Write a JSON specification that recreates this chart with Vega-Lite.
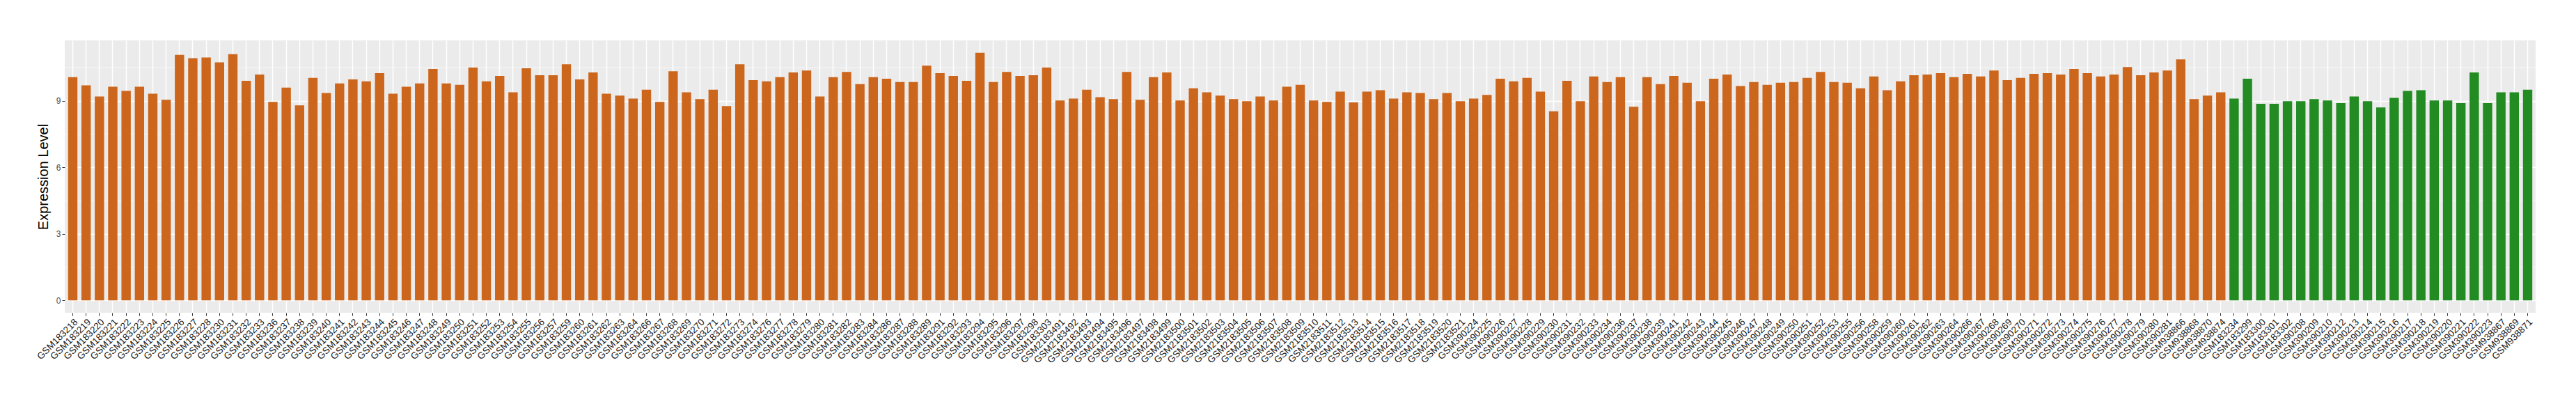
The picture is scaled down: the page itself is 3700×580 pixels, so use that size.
{
  "$schema": "https://vega.github.io/schema/vega-lite/v6.json",
  "width": 3549,
  "height": 391,
  "autosize": {"type": "none"},
  "padding": {"left": 93, "top": 58, "right": 58, "bottom": 131},
  "background": "white",
  "config": {
    "font": "Liberation Sans",
    "view": {"stroke": null, "fill": "#EBEBEB"},
    "axis": {"domain": false}
  },
  "data": {
    "values": [
      {"sample": "GSM183218", "value": 10.06, "group": "Group1"},
      {"sample": "GSM183219", "value": 9.69, "group": "Group1"},
      {"sample": "GSM183220", "value": 9.19, "group": "Group1"},
      {"sample": "GSM183221", "value": 9.63, "group": "Group1"},
      {"sample": "GSM183222", "value": 9.44, "group": "Group1"},
      {"sample": "GSM183223", "value": 9.63, "group": "Group1"},
      {"sample": "GSM183224", "value": 9.32, "group": "Group1"},
      {"sample": "GSM183225", "value": 9.04, "group": "Group1"},
      {"sample": "GSM183226", "value": 11.07, "group": "Group1"},
      {"sample": "GSM183227", "value": 10.92, "group": "Group1"},
      {"sample": "GSM183228", "value": 10.95, "group": "Group1"},
      {"sample": "GSM183230", "value": 10.73, "group": "Group1"},
      {"sample": "GSM183231", "value": 11.10, "group": "Group1"},
      {"sample": "GSM183232", "value": 9.90, "group": "Group1"},
      {"sample": "GSM183233", "value": 10.18, "group": "Group1"},
      {"sample": "GSM183236", "value": 8.95, "group": "Group1"},
      {"sample": "GSM183237", "value": 9.59, "group": "Group1"},
      {"sample": "GSM183238", "value": 8.79, "group": "Group1"},
      {"sample": "GSM183239", "value": 10.03, "group": "Group1"},
      {"sample": "GSM183240", "value": 9.35, "group": "Group1"},
      {"sample": "GSM183241", "value": 9.78, "group": "Group1"},
      {"sample": "GSM183242", "value": 9.96, "group": "Group1"},
      {"sample": "GSM183243", "value": 9.87, "group": "Group1"},
      {"sample": "GSM183244", "value": 10.24, "group": "Group1"},
      {"sample": "GSM183245", "value": 9.32, "group": "Group1"},
      {"sample": "GSM183246", "value": 9.63, "group": "Group1"},
      {"sample": "GSM183247", "value": 9.78, "group": "Group1"},
      {"sample": "GSM183248", "value": 10.43, "group": "Group1"},
      {"sample": "GSM183249", "value": 9.78, "group": "Group1"},
      {"sample": "GSM183250", "value": 9.72, "group": "Group1"},
      {"sample": "GSM183251", "value": 10.49, "group": "Group1"},
      {"sample": "GSM183252", "value": 9.87, "group": "Group1"},
      {"sample": "GSM183253", "value": 10.12, "group": "Group1"},
      {"sample": "GSM183254", "value": 9.38, "group": "Group1"},
      {"sample": "GSM183255", "value": 10.46, "group": "Group1"},
      {"sample": "GSM183256", "value": 10.15, "group": "Group1"},
      {"sample": "GSM183257", "value": 10.15, "group": "Group1"},
      {"sample": "GSM183259", "value": 10.64, "group": "Group1"},
      {"sample": "GSM183260", "value": 9.96, "group": "Group1"},
      {"sample": "GSM183261", "value": 10.27, "group": "Group1"},
      {"sample": "GSM183262", "value": 9.32, "group": "Group1"},
      {"sample": "GSM183263", "value": 9.23, "group": "Group1"},
      {"sample": "GSM183264", "value": 9.10, "group": "Group1"},
      {"sample": "GSM183266", "value": 9.50, "group": "Group1"},
      {"sample": "GSM183267", "value": 8.95, "group": "Group1"},
      {"sample": "GSM183268", "value": 10.33, "group": "Group1"},
      {"sample": "GSM183269", "value": 9.38, "group": "Group1"},
      {"sample": "GSM183270", "value": 9.07, "group": "Group1"},
      {"sample": "GSM183271", "value": 9.50, "group": "Group1"},
      {"sample": "GSM183272", "value": 8.76, "group": "Group1"},
      {"sample": "GSM183273", "value": 10.64, "group": "Group1"},
      {"sample": "GSM183274", "value": 9.93, "group": "Group1"},
      {"sample": "GSM183276", "value": 9.87, "group": "Group1"},
      {"sample": "GSM183277", "value": 10.06, "group": "Group1"},
      {"sample": "GSM183278", "value": 10.27, "group": "Group1"},
      {"sample": "GSM183279", "value": 10.36, "group": "Group1"},
      {"sample": "GSM183280", "value": 9.19, "group": "Group1"},
      {"sample": "GSM183281", "value": 10.06, "group": "Group1"},
      {"sample": "GSM183282", "value": 10.30, "group": "Group1"},
      {"sample": "GSM183283", "value": 9.75, "group": "Group1"},
      {"sample": "GSM183284", "value": 10.06, "group": "Group1"},
      {"sample": "GSM183286", "value": 9.99, "group": "Group1"},
      {"sample": "GSM183287", "value": 9.84, "group": "Group1"},
      {"sample": "GSM183288", "value": 9.84, "group": "Group1"},
      {"sample": "GSM183289", "value": 10.58, "group": "Group1"},
      {"sample": "GSM183291", "value": 10.24, "group": "Group1"},
      {"sample": "GSM183292", "value": 10.12, "group": "Group1"},
      {"sample": "GSM183293", "value": 9.90, "group": "Group1"},
      {"sample": "GSM183294", "value": 11.16, "group": "Group1"},
      {"sample": "GSM183295", "value": 9.84, "group": "Group1"},
      {"sample": "GSM183296", "value": 10.30, "group": "Group1"},
      {"sample": "GSM183297", "value": 10.12, "group": "Group1"},
      {"sample": "GSM183298", "value": 10.15, "group": "Group1"},
      {"sample": "GSM183303", "value": 10.49, "group": "Group1"},
      {"sample": "GSM2183491", "value": 9.01, "group": "Group1"},
      {"sample": "GSM2183492", "value": 9.10, "group": "Group1"},
      {"sample": "GSM2183493", "value": 9.50, "group": "Group1"},
      {"sample": "GSM2183494", "value": 9.16, "group": "Group1"},
      {"sample": "GSM2183495", "value": 9.07, "group": "Group1"},
      {"sample": "GSM2183496", "value": 10.30, "group": "Group1"},
      {"sample": "GSM2183497", "value": 9.04, "group": "Group1"},
      {"sample": "GSM2183498", "value": 10.06, "group": "Group1"},
      {"sample": "GSM2183499", "value": 10.27, "group": "Group1"},
      {"sample": "GSM2183500", "value": 9.01, "group": "Group1"},
      {"sample": "GSM2183501", "value": 9.56, "group": "Group1"},
      {"sample": "GSM2183502", "value": 9.38, "group": "Group1"},
      {"sample": "GSM2183503", "value": 9.23, "group": "Group1"},
      {"sample": "GSM2183504", "value": 9.07, "group": "Group1"},
      {"sample": "GSM2183505", "value": 8.98, "group": "Group1"},
      {"sample": "GSM2183506", "value": 9.19, "group": "Group1"},
      {"sample": "GSM2183507", "value": 9.01, "group": "Group1"},
      {"sample": "GSM2183508", "value": 9.63, "group": "Group1"},
      {"sample": "GSM2183509", "value": 9.72, "group": "Group1"},
      {"sample": "GSM2183510", "value": 9.01, "group": "Group1"},
      {"sample": "GSM2183511", "value": 8.95, "group": "Group1"},
      {"sample": "GSM2183512", "value": 9.41, "group": "Group1"},
      {"sample": "GSM2183513", "value": 8.92, "group": "Group1"},
      {"sample": "GSM2183514", "value": 9.41, "group": "Group1"},
      {"sample": "GSM2183515", "value": 9.47, "group": "Group1"},
      {"sample": "GSM2183516", "value": 9.10, "group": "Group1"},
      {"sample": "GSM2183517", "value": 9.38, "group": "Group1"},
      {"sample": "GSM2183518", "value": 9.35, "group": "Group1"},
      {"sample": "GSM2183519", "value": 9.07, "group": "Group1"},
      {"sample": "GSM2183520", "value": 9.35, "group": "Group1"},
      {"sample": "GSM2183521", "value": 8.98, "group": "Group1"},
      {"sample": "GSM390224", "value": 9.10, "group": "Group1"},
      {"sample": "GSM390225", "value": 9.26, "group": "Group1"},
      {"sample": "GSM390226", "value": 9.99, "group": "Group1"},
      {"sample": "GSM390227", "value": 9.87, "group": "Group1"},
      {"sample": "GSM390228", "value": 10.03, "group": "Group1"},
      {"sample": "GSM390229", "value": 9.41, "group": "Group1"},
      {"sample": "GSM390230", "value": 8.52, "group": "Group1"},
      {"sample": "GSM390231", "value": 9.90, "group": "Group1"},
      {"sample": "GSM390232", "value": 8.98, "group": "Group1"},
      {"sample": "GSM390233", "value": 10.09, "group": "Group1"},
      {"sample": "GSM390234", "value": 9.84, "group": "Group1"},
      {"sample": "GSM390236", "value": 10.06, "group": "Group1"},
      {"sample": "GSM390237", "value": 8.73, "group": "Group1"},
      {"sample": "GSM390238", "value": 10.06, "group": "Group1"},
      {"sample": "GSM390239", "value": 9.75, "group": "Group1"},
      {"sample": "GSM390241", "value": 10.12, "group": "Group1"},
      {"sample": "GSM390242", "value": 9.81, "group": "Group1"},
      {"sample": "GSM390243", "value": 8.98, "group": "Group1"},
      {"sample": "GSM390244", "value": 9.99, "group": "Group1"},
      {"sample": "GSM390245", "value": 10.18, "group": "Group1"},
      {"sample": "GSM390246", "value": 9.66, "group": "Group1"},
      {"sample": "GSM390247", "value": 9.84, "group": "Group1"},
      {"sample": "GSM390248", "value": 9.72, "group": "Group1"},
      {"sample": "GSM390249", "value": 9.81, "group": "Group1"},
      {"sample": "GSM390250", "value": 9.84, "group": "Group1"},
      {"sample": "GSM390251", "value": 10.03, "group": "Group1"},
      {"sample": "GSM390252", "value": 10.30, "group": "Group1"},
      {"sample": "GSM390253", "value": 9.84, "group": "Group1"},
      {"sample": "GSM390255", "value": 9.81, "group": "Group1"},
      {"sample": "GSM390256", "value": 9.56, "group": "Group1"},
      {"sample": "GSM390258", "value": 10.09, "group": "Group1"},
      {"sample": "GSM390259", "value": 9.47, "group": "Group1"},
      {"sample": "GSM390260", "value": 9.87, "group": "Group1"},
      {"sample": "GSM390261", "value": 10.15, "group": "Group1"},
      {"sample": "GSM390262", "value": 10.18, "group": "Group1"},
      {"sample": "GSM390263", "value": 10.24, "group": "Group1"},
      {"sample": "GSM390264", "value": 10.06, "group": "Group1"},
      {"sample": "GSM390266", "value": 10.21, "group": "Group1"},
      {"sample": "GSM390267", "value": 10.09, "group": "Group1"},
      {"sample": "GSM390268", "value": 10.36, "group": "Group1"},
      {"sample": "GSM390269", "value": 9.93, "group": "Group1"},
      {"sample": "GSM390270", "value": 10.03, "group": "Group1"},
      {"sample": "GSM390271", "value": 10.21, "group": "Group1"},
      {"sample": "GSM390272", "value": 10.24, "group": "Group1"},
      {"sample": "GSM390273", "value": 10.18, "group": "Group1"},
      {"sample": "GSM390274", "value": 10.43, "group": "Group1"},
      {"sample": "GSM390275", "value": 10.24, "group": "Group1"},
      {"sample": "GSM390276", "value": 10.09, "group": "Group1"},
      {"sample": "GSM390277", "value": 10.18, "group": "Group1"},
      {"sample": "GSM390278", "value": 10.52, "group": "Group1"},
      {"sample": "GSM390279", "value": 10.15, "group": "Group1"},
      {"sample": "GSM390280", "value": 10.27, "group": "Group1"},
      {"sample": "GSM390281", "value": 10.36, "group": "Group1"},
      {"sample": "GSM938866", "value": 10.86, "group": "Group1"},
      {"sample": "GSM938868", "value": 9.07, "group": "Group1"},
      {"sample": "GSM938870", "value": 9.23, "group": "Group1"},
      {"sample": "GSM938874", "value": 9.38, "group": "Group1"},
      {"sample": "GSM183234", "value": 9.10, "group": "Group2"},
      {"sample": "GSM183299", "value": 9.99, "group": "Group2"},
      {"sample": "GSM183300", "value": 8.86, "group": "Group2"},
      {"sample": "GSM183301", "value": 8.86, "group": "Group2"},
      {"sample": "GSM183302", "value": 8.98, "group": "Group2"},
      {"sample": "GSM390208", "value": 8.98, "group": "Group2"},
      {"sample": "GSM390209", "value": 9.07, "group": "Group2"},
      {"sample": "GSM390210", "value": 9.01, "group": "Group2"},
      {"sample": "GSM390212", "value": 8.89, "group": "Group2"},
      {"sample": "GSM390213", "value": 9.19, "group": "Group2"},
      {"sample": "GSM390214", "value": 8.98, "group": "Group2"},
      {"sample": "GSM390215", "value": 8.70, "group": "Group2"},
      {"sample": "GSM390216", "value": 9.13, "group": "Group2"},
      {"sample": "GSM390217", "value": 9.44, "group": "Group2"},
      {"sample": "GSM390218", "value": 9.47, "group": "Group2"},
      {"sample": "GSM390219", "value": 9.01, "group": "Group2"},
      {"sample": "GSM390220", "value": 9.01, "group": "Group2"},
      {"sample": "GSM390221", "value": 8.89, "group": "Group2"},
      {"sample": "GSM390222", "value": 10.27, "group": "Group2"},
      {"sample": "GSM390223", "value": 8.89, "group": "Group2"},
      {"sample": "GSM938867", "value": 9.38, "group": "Group2"},
      {"sample": "GSM938869", "value": 9.38, "group": "Group2"},
      {"sample": "GSM938871", "value": 9.50, "group": "Group2"}
    ]
  },
  "mark": {"type": "bar"},
  "encoding": {
    "x": {
      "field": "sample",
      "type": "nominal",
      "sort": null,
      "scale": {"paddingInner": 0.3, "paddingOuter": 0.25},
      "axis": {
        "title": null,
        "grid": true,
        "gridColor": "white",
        "gridWidth": 1.5,
        "bandPosition": 0.5,
        "tickColor": "#333333",
        "tickSize": 4,
        "tickWidth": 1,
        "labelAngle": -45,
        "labelAlign": "right",
        "labelBaseline": "top",
        "labelFontSize": 13.5,
        "labelColor": "#1A1A1A",
        "labelPadding": 2,
        "labelOverlap": false,
        "labelLimit": 0
      }
    },
    "y": {
      "field": "value",
      "type": "quantitative",
      "scale": {"domain": [-0.558, 11.718], "nice": false, "zero": false},
      "axis": {
        "title": "Expression Level",
        "titleFontSize": 20,
        "titleFontWeight": "normal",
        "titleColor": "black",
        "titlePadding": 8,
        "values": [0, 1.5, 3, 4.5, 6, 7.5, 9, 10.5],
        "labelExpr": "datum.value % 3 === 0 ? datum.label : ''",
        "labelFontSize": 12,
        "labelColor": "#4D4D4D",
        "labelPadding": 2,
        "tickSize": 4,
        "tickColor": {"condition": {"test": "datum.value % 3 === 0", "value": "#333333"}, "value": "transparent"},
        "grid": true,
        "gridColor": "white",
        "gridWidth": {"condition": {"test": "datum.value % 3 === 0", "value": 1.5}, "value": 0.75}
      }
    },
    "color": {
      "field": "group",
      "type": "nominal",
      "scale": {"domain": ["Group1", "Group2"], "range": ["#CD661D", "#228B22"]},
      "legend": null
    }
  }
}
